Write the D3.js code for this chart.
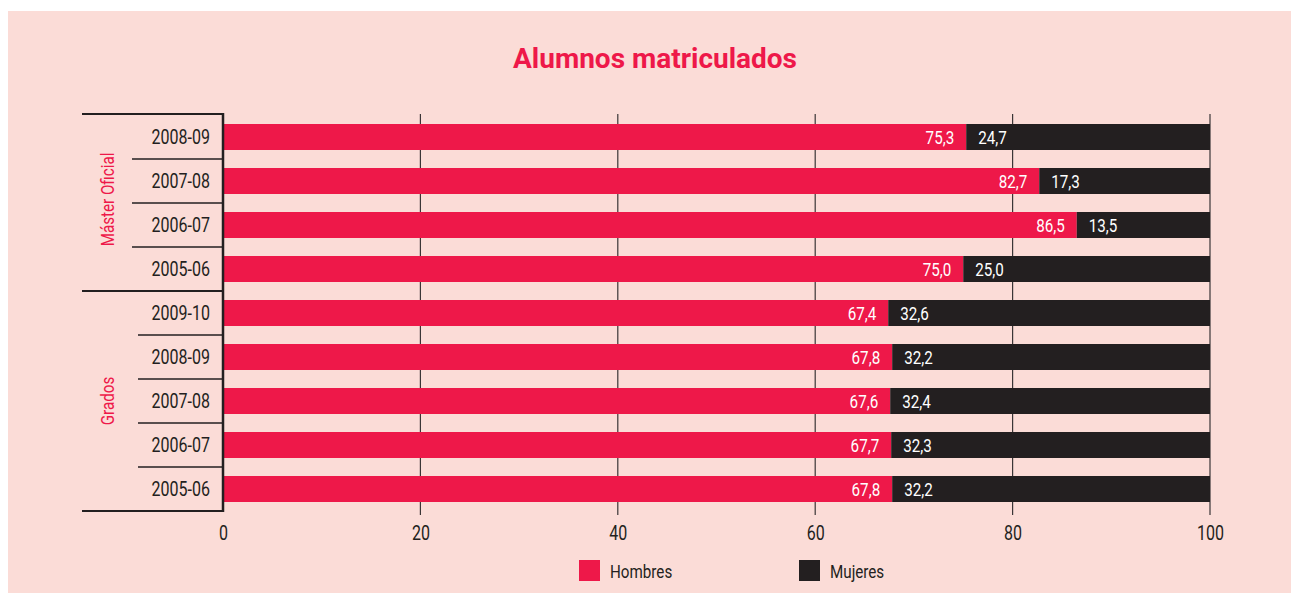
<!DOCTYPE html>
<html>
<head>
<meta charset="utf-8">
<script src="https://cdnjs.cloudflare.com/ajax/libs/d3/7.8.5/d3.min.js"></script>
<style>
  html, body { margin: 0; padding: 0; background: #fff; }
  svg { display: block; }
  text { font-family: Roboto, "Liberation Sans", sans-serif; }
</style>
</head>
<body>
<div id="chart"></div>
<script>
// data
var groups = ['Máster Oficial', 'Grados']
var masterYears = ['2008-09', '2007-08', '2006-07', '2005-06']
var masterHombres = [75.3, 82.7, 86.5, 75.0]
var masterMujeres = [24.7, 17.3, 13.5, 25.0]
var gradosYears = ['2009-10', '2008-09', '2007-08', '2006-07', '2005-06']
var gradosHombres = [67.4, 67.8, 67.6, 67.7, 67.8]
var gradosMujeres = [32.6, 32.2, 32.4, 32.3, 32.2]
var xTicks = [0, 20, 40, 60, 80, 100]
var seriesNames = ['Hombres', 'Mujeres']

var red = '#ee1849',
    dark = '#231f20',
    bg = '#fbdcd7'

var width = 1291,
    height = 593,
    narrow = 0.8   // no condensed font installed, squeeze roboto instead

var rows = []
masterYears.forEach((y, i) => rows.push({ group: 0, year: y, h: masterHombres[i], m: masterMujeres[i] }))
gradosYears.forEach((y, i) => rows.push({ group: 1, year: y, h: gradosHombres[i], m: gradosMujeres[i] }))
rows.forEach(d => d.key = d.group + '-' + d.year)

// put text at x,y squeezed horizontally
function place(sel, xf, yf, rot) {
    sel.attr('transform', (d, i) => 'translate(' + xf(d, i) + ',' + yf(d, i) + ')' +
        (rot ? ' rotate(' + rot + ')' : '') + ' scale(' + narrow + ',1)')
}

var svg = d3.select('#chart')
    .append('svg')
    .attr('width', width)
    .attr('height', height)

// panel
svg.append('rect')
    .attr('x', 8)
    .attr('y', 11)
    .attr('width', width - 8)
    .attr('height', height - 11)
    .attr('fill', bg)

// title
svg.append('text')
    .attr('x', 655)
    .attr('y', 68)
    .attr('text-anchor', 'middle')
    .style('font-weight', 700)
    .style('font-size', '28px')
    .attr('fill', red)
    .text('Alumnos matriculados')

// scales
var xscale = d3.scaleLinear()
    .domain([0, 100])
    .range([223, 1210])

var yscale = d3.scaleBand()
    .domain(rows.map(d => d.key))
    .range([115, 511])
    .paddingInner(18 / 44)
    .paddingOuter(9 / 44)

var step = yscale.step()
var fmt = v => d3.format('.1f')(v).replace('.', ',')

// gridlines
svg.append('g').selectAll('line')
    .data(xTicks.slice(1))
    .enter()
    .append('line')
    .attr('x1', d => xscale(d))
    .attr('x2', d => xscale(d))
    .attr('y1', 114)
    .attr('y2', 515)
    .attr('stroke', '#3a3536')
    .attr('stroke-width', 1.2)

// axis labels
var xaxis = d3.axisBottom(xscale)
    .tickValues(xTicks)
    .tickSize(0)
    .tickPadding(0)
    .tickFormat(d3.format('d'))
var gx = svg.append('g')
    .attr('transform', 'translate(0,540)')
    .call(xaxis)
gx.select('.domain').remove()
gx.selectAll('text')
    .attr('dy', 0)
    .attr('transform', 'scale(' + narrow + ',1)')
    .attr('fill', dark)
    .style('font-family', 'Roboto, sans-serif')
    .style('font-size', '20px')

// bars
var bars = svg.append('g').selectAll('g')
    .data(rows)
    .enter()
    .append('g')

bars.append('rect')
    .attr('x', xscale(0))
    .attr('y', d => yscale(d.key))
    .attr('width', d => xscale(d.h) - xscale(0))
    .attr('height', yscale.bandwidth())
    .attr('fill', red)

bars.append('rect')
    .attr('x', d => xscale(d.h))
    .attr('y', d => yscale(d.key))
    .attr('width', d => xscale(d.h + d.m) - xscale(d.h))
    .attr('height', yscale.bandwidth())
    .attr('fill', dark)

bars.append('text')
    .call(place, d => xscale(d.h) - 12, d => yscale(d.key) + yscale.bandwidth() / 2 + 7)
    .attr('text-anchor', 'end')
    .attr('fill', '#fff')
    .style('font-size', '19px')
    .text(d => fmt(d.h))

bars.append('text')
    .call(place, d => xscale(d.h) + 12, d => yscale(d.key) + yscale.bandwidth() / 2 + 7)
    .attr('fill', '#fff')
    .style('font-size', '19px')
    .text(d => fmt(d.m))

// row labels
svg.append('g').selectAll('text')
    .data(rows)
    .enter()
    .append('text')
    .call(place, d => 210, d => yscale(d.key) + yscale.bandwidth() / 2 + 7)
    .attr('text-anchor', 'end')
    .attr('fill', dark)
    .style('font-size', '20px')
    .text(d => d.year)

// row separators
var seps = []
rows.forEach((d, i) => {
    if (i > 0 && rows[i - 1].group === d.group)
        seps.push({ y: yscale(d.key) - (step - yscale.bandwidth()) / 2, x1: d.group === 0 ? 132 : 138 })
})
svg.append('g').selectAll('line')
    .data(seps)
    .enter()
    .append('line')
    .attr('x1', d => d.x1)
    .attr('x2', 223)
    .attr('y1', d => d.y)
    .attr('y2', d => d.y)
    .attr('stroke', dark)
    .attr('stroke-width', 1.5)

// group lines
var groupBounds = [114, 115 + step * masterYears.length, 511]
svg.append('g').selectAll('line')
    .data(groupBounds)
    .enter()
    .append('line')
    .attr('x1', 82)
    .attr('x2', 224)
    .attr('y1', d => d)
    .attr('y2', d => d)
    .attr('stroke', dark)
    .attr('stroke-width', 2)

svg.append('line')
    .attr('x1', 223)
    .attr('x2', 223)
    .attr('y1', 113)
    .attr('y2', 512)
    .attr('stroke', dark)
    .attr('stroke-width', 2.5)

// group labels
svg.append('g').selectAll('text')
    .data(groups)
    .enter()
    .append('text')
    .call(place, d => 114, (d, i) => (groupBounds[i] + groupBounds[i + 1]) / 2 - (i === 0 ? 3 : 0), -90)
    .attr('text-anchor', 'middle')
    .attr('fill', red)
    .style('font-size', '19px')
    .text(d => d)

// legend
var legend = svg.append('g').selectAll('g')
    .data(seriesNames)
    .enter()
    .append('g')
    .attr('transform', (d, i) => 'translate(' + (579 + i * 220) + ',560)')

legend.append('rect')
    .attr('width', 21)
    .attr('height', 21)
    .attr('fill', (d, i) => i === 0 ? red : dark)

legend.append('text')
    .call(place, d => 31, d => 18)
    .attr('fill', dark)
    .style('font-size', '19px')
    .text(d => d)
</script>
</body>
</html>
